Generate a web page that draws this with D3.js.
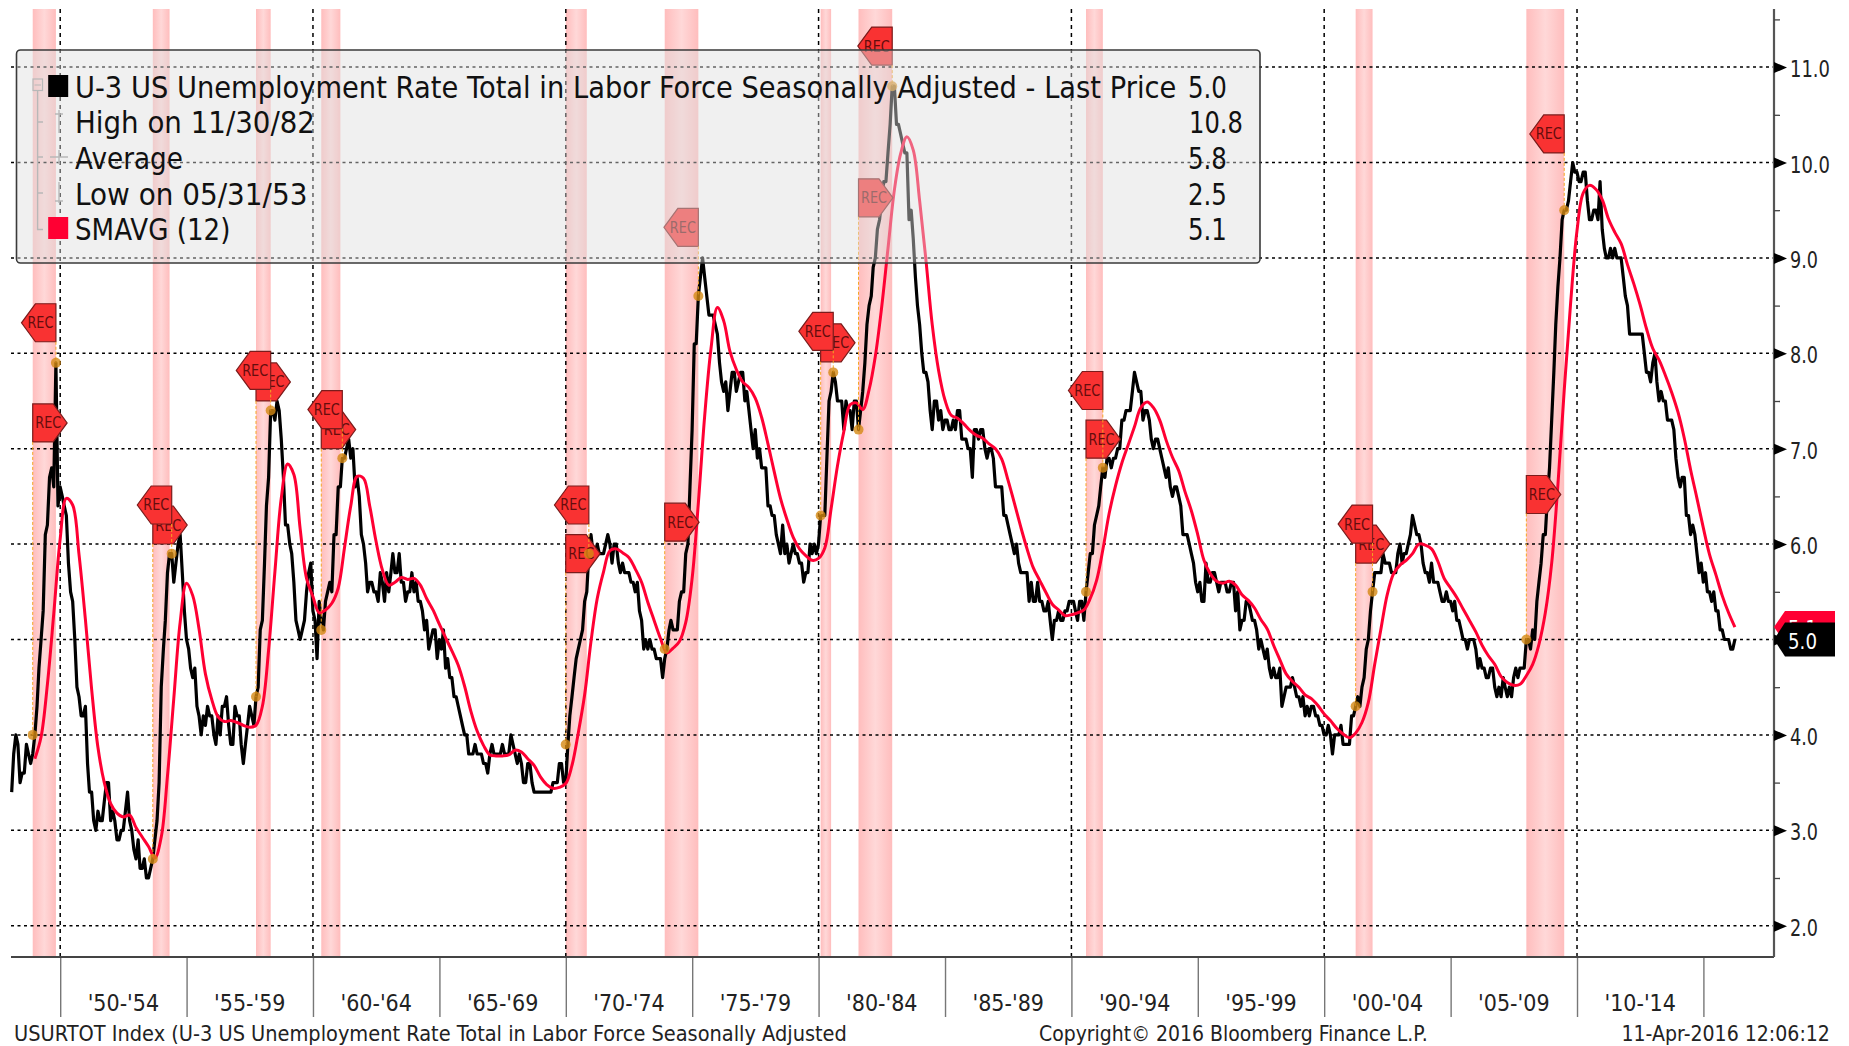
<!DOCTYPE html>
<html>
<head>
<meta charset="utf-8">
<script src="https://cdn.jsdelivr.net/npm/d3@7"></script>
<style>
html,body{margin:0;padding:0;background:#fff;overflow:hidden}
svg{display:block}
text{font-family:"DejaVu Sans",sans-serif}
</style>
</head>
<body>
<svg id="chart" width="1849" height="1046"></svg>
<script>
// Monthly U-3 rate, Jan 1948 - Mar 2016
const rateFirstYear = 1948;
const rate = [
3.4,3.8,4.0,3.9,3.5,3.6,3.6,3.9,3.8,3.7,3.8,4.0,
4.3,4.7,5.0,5.3,6.1,6.2,6.7,6.8,6.6,7.9,6.4,6.6,
6.5,6.4,6.3,5.8,5.5,5.4,5.0,4.5,4.4,4.2,4.2,4.3,
3.7,3.4,3.4,3.1,3.0,3.2,3.1,3.1,3.3,3.5,3.5,3.1,
3.2,3.1,2.9,2.9,3.0,3.0,3.2,3.4,3.1,3.0,2.8,2.7,
2.9,2.6,2.6,2.7,2.5,2.5,2.6,2.7,2.9,3.1,3.5,4.5,
4.9,5.2,5.7,5.9,5.9,5.6,5.8,6.0,6.1,5.7,5.3,5.0,
4.9,4.7,4.6,4.7,4.3,4.2,4.0,4.2,4.1,4.3,4.2,4.2,
4.0,3.9,4.2,4.0,4.3,4.3,4.4,4.1,3.9,3.9,4.3,4.2,
4.2,3.9,3.7,3.9,4.1,4.3,4.2,4.1,4.4,4.5,5.1,5.2,
5.8,6.4,6.7,7.4,7.4,7.3,7.5,7.4,7.1,6.7,6.2,6.2,
6.0,5.9,5.6,5.2,5.1,5.0,5.1,5.2,5.5,5.7,5.8,5.3,
5.2,4.8,5.4,5.2,5.1,5.4,5.5,5.6,5.5,6.1,6.1,6.6,
6.6,6.9,6.9,7.0,7.1,6.9,7.0,6.6,6.7,6.5,6.1,6.0,
5.8,5.5,5.6,5.6,5.5,5.5,5.4,5.7,5.6,5.4,5.7,5.5,
5.7,5.9,5.7,5.7,5.9,5.6,5.6,5.4,5.5,5.5,5.7,5.5,
5.6,5.4,5.4,5.3,5.1,5.2,4.9,5.0,5.1,5.1,4.8,5.0,
4.9,5.1,4.7,4.8,4.6,4.6,4.4,4.4,4.3,4.2,4.1,4.0,
4.0,3.8,3.8,3.8,3.9,3.8,3.8,3.8,3.7,3.7,3.6,3.8,
3.9,3.8,3.8,3.8,3.8,3.9,3.8,3.8,3.8,4.0,3.9,3.8,
3.7,3.8,3.7,3.5,3.5,3.7,3.7,3.5,3.4,3.4,3.4,3.4,
3.4,3.4,3.4,3.4,3.4,3.5,3.5,3.5,3.7,3.7,3.5,3.5,
3.9,4.2,4.4,4.6,4.8,4.9,5.0,5.1,5.4,5.5,5.9,6.1,
5.9,5.9,6.0,5.9,5.9,5.9,6.0,6.1,6.0,5.8,6.0,6.0,
5.8,5.7,5.8,5.7,5.7,5.7,5.6,5.6,5.5,5.6,5.3,5.2,
4.9,5.0,4.9,5.0,4.9,4.9,4.8,4.8,4.8,4.6,4.8,4.9,
5.1,5.2,5.1,5.1,5.1,5.4,5.5,5.5,5.9,6.0,6.6,7.2,
8.1,8.1,8.6,8.8,9.0,8.8,8.6,8.4,8.4,8.4,8.3,8.2,
7.9,7.7,7.6,7.7,7.4,7.6,7.8,7.8,7.6,7.7,7.8,7.8,
7.5,7.6,7.4,7.2,7.0,7.2,6.9,7.0,6.8,6.8,6.8,6.4,
6.4,6.3,6.3,6.1,6.0,5.9,6.2,5.9,6.0,5.8,5.9,6.0,
5.9,5.9,5.8,5.8,5.6,5.7,5.7,6.0,5.9,6.0,5.9,6.0,
6.3,6.3,6.3,6.9,7.5,7.6,7.8,7.7,7.5,7.5,7.5,7.2,
7.5,7.4,7.4,7.2,7.5,7.5,7.2,7.4,7.6,7.9,8.3,8.5,
8.6,8.9,9.0,9.3,9.4,9.6,9.8,9.8,10.1,10.4,10.8,10.8,
10.4,10.4,10.3,10.2,10.1,10.1,9.4,9.5,9.2,8.8,8.5,8.3,
8.0,7.8,7.8,7.7,7.4,7.2,7.5,7.5,7.3,7.4,7.2,7.3,
7.3,7.2,7.2,7.3,7.2,7.4,7.4,7.1,7.1,7.1,7.0,7.0,
6.7,7.2,7.2,7.1,7.2,7.2,7.0,6.9,7.0,7.0,6.9,6.6,
6.6,6.6,6.6,6.3,6.3,6.2,6.1,6.0,5.9,6.0,5.8,5.7,
5.7,5.7,5.7,5.4,5.6,5.4,5.4,5.6,5.4,5.4,5.3,5.3,
5.4,5.2,5.0,5.2,5.2,5.3,5.2,5.2,5.3,5.3,5.4,5.4,
5.4,5.3,5.2,5.4,5.4,5.2,5.5,5.7,5.9,5.9,6.2,6.3,
6.4,6.6,6.8,6.7,6.9,6.9,6.8,6.9,6.9,7.0,7.0,7.3,
7.3,7.4,7.4,7.4,7.6,7.8,7.7,7.6,7.6,7.3,7.4,7.4,
7.3,7.1,7.0,7.1,7.1,7.0,6.9,6.8,6.7,6.8,6.6,6.5,
6.6,6.6,6.5,6.4,6.1,6.1,6.1,6.0,5.9,5.8,5.6,5.5,
5.6,5.4,5.4,5.8,5.6,5.6,5.7,5.7,5.6,5.5,5.6,5.6,
5.6,5.5,5.5,5.6,5.6,5.3,5.5,5.1,5.2,5.2,5.4,5.4,
5.3,5.2,5.2,5.1,4.9,5.0,4.9,4.8,4.9,4.7,4.6,4.7,
4.6,4.6,4.7,4.3,4.4,4.5,4.5,4.5,4.6,4.5,4.4,4.4,
4.3,4.4,4.2,4.3,4.2,4.3,4.3,4.2,4.2,4.1,4.1,4.0,
4.0,4.1,4.0,3.8,4.0,4.0,4.0,4.1,3.9,3.9,3.9,3.9,
4.2,4.2,4.3,4.4,4.3,4.5,4.6,4.9,5.0,5.3,5.5,5.7,
5.7,5.7,5.7,5.9,5.8,5.8,5.8,5.7,5.7,5.7,5.9,6.0,
5.8,5.9,5.9,6.0,6.1,6.3,6.2,6.1,6.1,6.0,5.8,5.7,
5.7,5.6,5.8,5.6,5.6,5.6,5.5,5.4,5.4,5.5,5.4,5.4,
5.3,5.4,5.2,5.2,5.1,5.0,5.0,4.9,5.0,5.0,5.0,4.9,
4.7,4.8,4.7,4.7,4.6,4.6,4.7,4.7,4.5,4.4,4.5,4.4,
4.6,4.5,4.4,4.5,4.4,4.6,4.7,4.6,4.7,4.7,4.7,5.0,
5.0,4.9,5.1,5.0,5.4,5.6,5.8,6.1,6.1,6.5,6.8,7.3,
7.8,8.3,8.7,9.0,9.4,9.5,9.5,9.6,9.8,10.0,9.9,9.9,
9.8,9.8,9.9,9.9,9.6,9.4,9.4,9.5,9.5,9.4,9.8,9.3,
9.1,9.0,9.0,9.1,9.0,9.1,9.0,9.0,9.0,8.8,8.6,8.5,
8.2,8.2,8.2,8.2,8.2,8.2,8.2,8.0,7.8,7.8,7.7,7.9,
8.0,7.7,7.5,7.6,7.5,7.5,7.3,7.3,7.3,7.2,6.9,6.7,
6.6,6.7,6.7,6.3,6.3,6.1,6.2,6.1,5.9,5.7,5.8,5.6,
5.7,5.5,5.5,5.4,5.5,5.3,5.3,5.1,5.1,5.0,5.0,5.0,
4.9,4.9,5.0
];

// SMAVG (12), one value per quarter end, Dec 1948 - Mar 2016
const smaFirstMonth = [1948, 11];
const sma = [
3.75,
3.98,4.53,5.27,6.05, 6.48,6.41,5.89,5.21, 4.48,3.87,3.50,3.28, 3.18,3.14,3.16,3.03,
2.93,2.83,2.71,2.93, 3.57,4.38,5.18,5.59, 5.46,5.11,4.64,4.37, 4.19,4.14,4.15,4.13,
4.10,4.08,4.10,4.30, 4.89,5.71,6.48,6.84, 6.73,6.16,5.64,5.45, 5.28,5.31,5.38,5.54,
5.96,6.40,6.71,6.69, 6.40,6.03,5.73,5.57, 5.60,5.65,5.63,5.64, 5.57,5.43,5.31,5.16,
5.02,4.88,4.73,4.51, 4.25,4.04,3.89,3.79, 3.78,3.78,3.79,3.84, 3.82,3.75,3.68,3.56,
3.48,3.44,3.45,3.49, 3.68,4.02,4.42,4.98, 5.43,5.71,5.93,5.95, 5.91,5.86,5.74,5.60,
5.39,5.20,5.01,4.86, 4.91,4.98,5.18,5.64, 6.43,7.34,8.05,8.48, 8.34,8.02,7.83,7.70,
7.64,7.53,7.33,7.05, 6.76,6.48,6.26,6.07, 5.95,5.88,5.83,5.85, 5.96,6.37,6.82,7.18,
7.46,7.48,7.41,7.62, 7.97,8.48,9.10,9.71, 10.09,10.27,10.13,9.60, 8.98,8.30,7.82,7.51,
7.35,7.32,7.26,7.19, 7.14,7.11,7.05,7.00, 6.89,6.67,6.43,6.18, 5.95,5.75,5.62,5.49,
5.37,5.31,5.25,5.26, 5.28,5.31,5.43,5.62, 5.94,6.32,6.61,6.85, 7.04,7.23,7.43,7.49,
7.43,7.30,7.09,6.91, 6.77,6.55,6.35,6.10, 5.83,5.69,5.61,5.59, 5.61,5.57,5.47,5.41,
5.33,5.21,5.11,4.94, 4.79,4.64,4.56,4.50, 4.42,4.38,4.31,4.22, 4.15,4.07,4.01,3.97,
4.02,4.13,4.34,4.74, 5.11,5.47,5.69,5.78, 5.83,5.90,6.00,5.99, 5.95,5.82,5.64,5.54,
5.44,5.32,5.20,5.08, 4.94,4.83,4.74,4.61, 4.55,4.52,4.53,4.62, 4.74,4.95,5.28,5.80,
6.62,7.61,8.52,9.28, 9.68,9.76,9.72,9.61, 9.41,9.27,9.15,8.93, 8.73,8.51,8.26,8.05,
7.93,7.77,7.59,7.38, 7.11,6.78,6.48,6.17, 5.89,5.68,5.46,5.28, 5.13
];

// Recession bands as drawn, with the REC flags and the chart values they hang from
const recessionStart = ["1948-11","1953-08","1957-09","1960-04","1969-12","1973-11","1980-01","1981-07","1990-07","2001-03","2007-12"];
const recessionEnd   = ["1949-10","1954-04","1958-04","1961-01","1970-10","1975-03","1980-06","1982-11","1991-03","2001-11","2009-06"];
const endFlagDate    = ["1949-10","1954-05","1958-04","1961-02","1970-11","1975-03","1980-07","1982-11","1991-03","2001-11","2009-06"];
const startFlagLevel = [7.27,6.20,7.70,7.20,5.90,6.23,8.11,9.63,7.10,6.00,6.52];
const startDotValue  = [4.0,2.7,4.4,5.1,3.9,4.9,6.3,7.2,5.5,4.3,5.0];
const endFlagLevel   = [8.32,6.41,7.82,7.41,6.41,9.32,8.23,11.22,7.61,6.21,10.30];
const endDotValue    = [7.9,5.9,7.4,6.9,5.9,8.6,7.8,10.8,6.8,5.5,9.5];

const yMajorTicks = [2,3,4,5,6,7,8,9,10,11];
const yMinorTicks = [2.5,3.5,4.5,5.5,6.5,7.5,8.5,9.5,10.5,11.5];
const xPeriodYears = [1950,1955,1960,1965,1970,1975,1980,1985,1990,1995,2000,2005,2010,2015];
const xGridYears = [1950,1960,1970,1980,1990,2000,2010];
const xPeriodLabels = ["'50-'54","'55-'59","'60-'64","'65-'69","'70-'74","'75-'79","'80-'84","'85-'89","'90-'94","'95-'99","'00-'04","'05-'09","'10-'14"];

const legendTitle = "U-3 US Unemployment Rate Total in Labor Force Seasonally Adjusted - Last Price";
const legendLabels = ["High on 11/30/82","Average","Low on 05/31/53","SMAVG (12)"];
const legendValues = ["5.0","10.8","5.8","2.5","5.1"];
const footerLeft = "USURTOT Index (U-3 US Unemployment Rate Total in Labor Force Seasonally Adjusted";
const footerMid = "Copyright\u00A9 2016 Bloomberg Finance L.P.";
const footerRight = "11-Apr-2016 12:06:12";
const lastRate = "5.0", lastSma = "5.1", lastRateValue = 5.0, lastSmaValue = 5.13;

// ---------------------------------------------------------------
const svg = d3.select("#chart");
const L = 11, R = 1774, T = 9, B = 957;
const x = d3.scaleTime().domain([new Date(1950,0,1), new Date(2015,0,1)]).range([60.2,1703.4]);
const y = d3.scaleLinear().domain([5,10]).range([639.5,162.5]);
const monthEnd = (yr,m) => new Date(yr, m+1, 0);
const parseEnd = s => { const [a,b] = s.split("-").map(Number); return monthEnd(a,b-1); };

const ratePts = rate.map((v,i)=>({d:monthEnd(rateFirstYear+Math.floor(i/12), i%12), v}));
const smaPts = sma.map((v,i)=>({d:monthEnd(smaFirstMonth[0], smaFirstMonth[1]+i*3), v}));
const line = d3.line().x(d=>x(d.d)).y(d=>y(d.v));

// Narrow the font horizontally to the reference's condensed look, about an anchor point
function place(sel, px, py, len){
  sel.attr("x",0).attr("y",0).attr("dy",null);
  const n = sel.node().getComputedTextLength();
  sel.attr("transform",`translate(${px},${py}) scale(${len/n},1)`);
  return sel;
}

const defs = svg.append("defs");
const grad = defs.append("linearGradient").attr("id","band");
[[0,"#ffbdbd"],[0.5,"#ffd8d8"],[1,"#ffbdbd"]].forEach(s=>grad.append("stop").attr("offset",s[0]).attr("stop-color",s[1]));

// bands
svg.append("g").selectAll("rect").data(recessionStart).join("rect")
  .attr("x",d=>x(parseEnd(d)))
  .attr("width",(d,i)=>x(parseEnd(recessionEnd[i]))-x(parseEnd(d)))
  .attr("y",T).attr("height",B-T).attr("fill","url(#band)");

// grid
svg.append("g").selectAll("line").data(yMajorTicks).join("line")
  .attr("x1",L).attr("x2",R).attr("y1",d=>y(d)).attr("y2",d=>y(d))
  .attr("stroke","#000").attr("stroke-width",1.5).attr("stroke-dasharray","3 3.5");
svg.append("g").selectAll("line").data(xGridYears).join("line")
  .attr("x1",d=>x(new Date(d,0,1))).attr("x2",d=>x(new Date(d,0,1))).attr("y1",T).attr("y2",B)
  .attr("stroke","#000").attr("stroke-width",1.5).attr("stroke-dasharray","4 4");

// series
svg.append("path").datum(ratePts).attr("d",line).attr("fill","none").attr("stroke","#000").attr("stroke-width",3.2).attr("stroke-linejoin","round");
svg.append("path").datum(smaPts).attr("d",line.curve(d3.curveCatmullRom.alpha(0.5))).attr("fill","none").attr("stroke","#ff0033").attr("stroke-width",3).attr("stroke-linejoin","round");

// REC flags
const flagW = 34.4, flagH = 19, flagS = 20.5;
function flag(date, level, dir){
  const g = svg.append("g").attr("transform",`translate(${x(date)},${y(level)})`);
  g.append("polygon")
    .attr("points",[[0,-flagH],[dir*flagS,-flagH],[dir*flagW,0],[dir*flagS,flagH],[0,flagH]].map(p=>p.join(",")).join(" "))
    .attr("fill","#f93232").attr("stroke","#7a1c1c").attr("stroke-width",1.2);
  g.append("text").attr("text-anchor","middle").attr("font-size",15.5).attr("fill","#650d0d").text("REC")
    .call(place,dir*15.5,5.5,26);
}
recessionStart.forEach((d,i)=>{
  flag(parseEnd(d),startFlagLevel[i],1);
  flag(parseEnd(endFlagDate[i]),endFlagLevel[i],-1);
});
function lead(date, level, val){
  svg.append("line").attr("x1",x(date)).attr("x2",x(date)).attr("y1",y(level)+(level>val?flagH:-flagH)).attr("y2",y(val))
    .attr("stroke","#f5a623").attr("stroke-width",1).attr("stroke-dasharray","3 2");
  svg.append("circle").attr("cx",x(date)).attr("cy",y(val)).attr("r",5).attr("fill","#d48a14").attr("fill-opacity",0.8);
}
recessionStart.forEach((d,i)=>{
  lead(parseEnd(d),startFlagLevel[i],startDotValue[i]);
  lead(parseEnd(endFlagDate[i]),endFlagLevel[i],endDotValue[i]);
});

// axes
const xAxisG = svg.append("g").attr("transform",`translate(0,${B})`)
  .call(d3.axisBottom(x).tickValues(xPeriodYears.map(v=>new Date(v,0,1))).tickSize(60).tickFormat(""));
xAxisG.select(".domain").remove();
xAxisG.selectAll(".tick line").attr("stroke","#777").attr("stroke-width",1.4);
svg.append("line").attr("x1",L).attr("x2",R).attr("y1",B).attr("y2",B).attr("stroke","#444").attr("stroke-width",2.2);
svg.append("g").selectAll("text").data(xPeriodLabels).join("text")
  .attr("text-anchor","middle").attr("font-size",23).attr("fill","#222").text(d=>d)
  .each(function(d,i){
    d3.select(this).call(place,(x(new Date(xPeriodYears[i],0,1))+x(new Date(xPeriodYears[i+1],0,1)))/2,1011,71.5);
  });

svg.append("line").attr("x1",R).attr("x2",R).attr("y1",T).attr("y2",B).attr("stroke","#555").attr("stroke-width",2.2);
const minorG = svg.append("g").attr("transform",`translate(${R},0)`)
  .call(d3.axisRight(y).tickValues(yMinorTicks).tickSize(6).tickFormat(""));
minorG.select(".domain").remove();
minorG.selectAll(".tick line").attr("stroke","#444").attr("stroke-width",1.3);
const majorG = svg.append("g").attr("transform",`translate(${R},0)`)
  .call(d3.axisRight(y).tickValues(yMajorTicks).tickSize(0).tickPadding(16).tickFormat(d3.format(".1f")));
majorG.select(".domain").remove();
majorG.selectAll(".tick").append("polygon").attr("points","0,-5.5 13,0 0,5.5").attr("fill","#000");
majorG.selectAll(".tick text").attr("font-size",23).attr("font-family",'"DejaVu Sans",sans-serif').attr("fill","#222")
  .each(function(d){ d3.select(this).call(place,16,9.5,d>=10?40:28); });

// last value tags
function tag(v, h, fill, txt, txtFill){
  const py = y(v), a = 1785, b = 1835;
  svg.append("polygon").attr("points",[[R,py],[a,py-h],[b,py-h],[b,py+h],[a,py+h]].map(p=>p.join(",")).join(" ")).attr("fill",fill);
  svg.append("text").attr("font-size",22).attr("fill",txtFill).text(txt).call(place,1788,py+9,29);
}
tag(lastSmaValue,16,"#ff0033",lastSma,"#fff");
tag(lastRateValue,17,"#000",lastRate,"#fff");

// legend
const lg = svg.append("g");
lg.append("rect").attr("x",16.5).attr("y",50).attr("width",1243.5).attr("height",213).attr("rx",4)
  .attr("fill","rgb(222,222,222)").attr("fill-opacity",0.45).attr("stroke","#3a3a3a").attr("stroke-width",1.6);
const rowY = [97.7,133.3,169,204.5,240];
lg.append("text").attr("font-size",30).attr("fill","#111").text(legendTitle).call(place,75,rowY[0],1101.5);
const labelLens = [240,108,232.5,155.5];
legendLabels.forEach((t,i)=>lg.append("text").attr("font-size",30).attr("fill","#111").text(t).call(place,75,rowY[i+1],labelLens[i]));
legendValues.forEach((t,i)=>lg.append("text").attr("font-size",30).attr("fill","#111").text(t).call(place,i===1?1189:1188,rowY[i],i===1?54:39));
lg.append("rect").attr("x",48.2).attr("y",75).attr("width",20).attr("height",22).attr("fill","#000");
lg.append("rect").attr("x",48.2).attr("y",217).attr("width",20).attr("height",22).attr("fill","#ff0033");
// tree decoration
const gray = "#b8b8b8";
lg.append("rect").attr("x",33).attr("y",79).attr("width",9.5).attr("height",11.5).attr("fill","none").attr("stroke",gray).attr("stroke-width",1.2);
lg.append("line").attr("x1",34.5).attr("x2",41).attr("y1",85).attr("y2",85).attr("stroke",gray);
lg.append("path").attr("d","M37.6 90.5V229.5H43M37.6 122H43M37.6 157H43M37.6 193H43").attr("fill","none").attr("stroke",gray).attr("stroke-width",1.4);
lg.append("path").attr("d","M55 114H63M59 110V133M50 157H68M59 150V164M59 182V203M55 201H63").attr("fill","none").attr("stroke",gray).attr("stroke-width",1.4);

// footer
const foot = (t,xp,len)=>svg.append("text").attr("font-size",21).attr("fill","#222").text(t).call(place,xp,1041,len);
foot(footerLeft,14,834);
foot(footerMid,1039,389);
foot(footerRight,1621.5,208.5);
</script>
</body>
</html>
